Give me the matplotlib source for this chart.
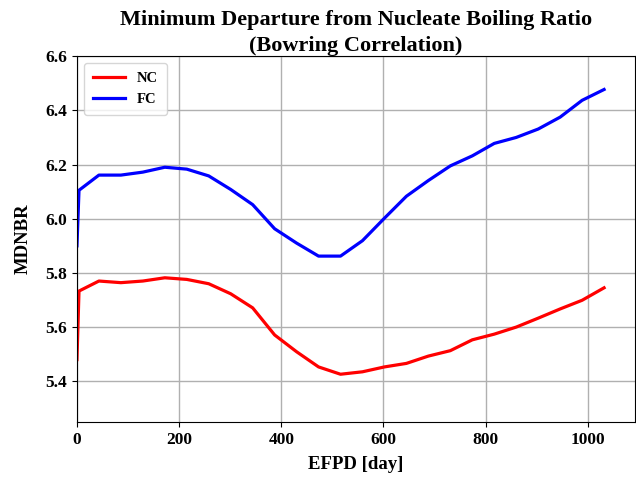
import matplotlib
matplotlib.use("Agg")
import matplotlib.pyplot as plt

# burnup steps (effective full power days)
efpd = [0, 4, 43, 86, 129, 172, 215, 258, 301, 344, 387, 430, 473, 516,
        559, 602, 645, 688, 731, 774, 817, 860, 903, 946, 989, 1032]

# MDNBR, natural circulation
mdnbr_nc = [5.48, 5.733, 5.77, 5.764, 5.77, 5.782, 5.776, 5.76, 5.723, 5.671,
            5.571, 5.509, 5.453, 5.426, 5.435, 5.453, 5.466, 5.493, 5.513,
            5.553, 5.574, 5.60, 5.633, 5.667, 5.699, 5.745]

# MDNBR, forced circulation
mdnbr_fc = [5.90, 6.105, 6.161, 6.161, 6.172, 6.19, 6.183, 6.158, 6.108, 6.052,
            5.963, 5.91, 5.862, 5.862, 5.919, 6.002, 6.083, 6.141, 6.195,
            6.232, 6.278, 6.30, 6.331, 6.375, 6.437, 6.477]

plt.rcParams['font.family'] = ['Liberation Serif', 'DejaVu Serif']
plt.rcParams['font.weight'] = 'bold'

fig, ax = plt.subplots(figsize=(6.36, 4.8), dpi=100)
fig.subplots_adjust(left=0.121, right=0.998, top=0.883, bottom=0.121)

ax.plot(efpd, mdnbr_nc, color='red', lw=2.3, label='NC')
ax.plot(efpd, mdnbr_fc, color='blue', lw=2.3, label='FC')

ax.set_xlim(0, 1092)
ax.set_ylim(5.25, 6.6)
ax.set_yticks([5.4, 5.6, 5.8, 6.0, 6.2, 6.4, 6.6])
ax.set_xticks([0, 200, 400, 600, 800, 1000])
ax.grid(True, color='#b0b0b0', lw=1)
ax.tick_params(labelsize=12.5)
for lbl in ax.get_xticklabels() + ax.get_yticklabels():
    lbl.set_fontweight('bold')

ax.set_xlabel('EFPD [day]', fontsize=13.5, fontweight='bold', labelpad=6)
ax.set_ylabel('MDNBR', fontsize=13.5, fontweight='bold', labelpad=10)
ax.set_title('Minimum Departure from Nucleate Boiling Ratio\n(Bowring Correlation)',
             fontsize=16, fontweight='bold', linespacing=1.35, pad=4)
ax.legend(loc='upper left', prop={'weight': 'bold', 'size': 10.5},
          handlelength=2.2, borderpad=0.6)

plt.savefig('out.png', dpi=100)
